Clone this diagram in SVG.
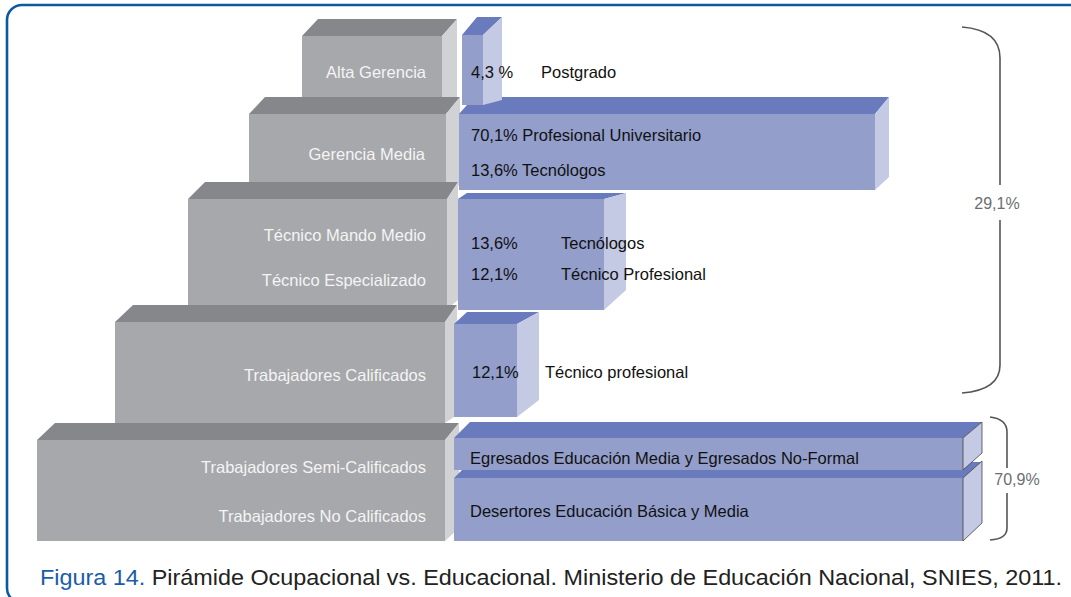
<svg xmlns="http://www.w3.org/2000/svg" width="1071" height="597" viewBox="0 0 1071 597">
<style>
.gf{fill:#a7a8ab}.gt{fill:#86878a}.gs{fill:#d1d2d4}
.bf{fill:#939ecb}.bt{fill:#6a7bbd}.bs{fill:#c4c9e4}
.gl{font-family:"Liberation Sans",Arial,sans-serif;font-size:16.5px;fill:#f4f4f4;text-anchor:end}
.bl{font-family:"Liberation Sans",Arial,sans-serif;font-size:16.5px;fill:#111}
.pc{font-family:"Liberation Sans",Arial,sans-serif;font-size:16px;fill:#6d6e71;text-anchor:middle}
.br{fill:none;stroke:#555;stroke-width:1.6}
.ol{fill:none;stroke:#444;stroke-width:0.8}
</style>
<rect width="1071" height="597" fill="#fff"/>
<rect x="7" y="5" width="1110" height="598" rx="15" fill="none" stroke="#0b59a0" stroke-width="2.6"/>

<g id="gray-alta">
<polygon class="gt" points="302,36 318,19 457,19 442,36"/>
<polygon class="gs" points="442,36 457,19 457,100 442,105"/>
<rect class="gf" x="302" y="36" width="140" height="69"/>
<text class="gl" x="426" y="78">Alta Gerencia</text>
</g>
<g id="gray-gerencia">
<polygon class="gt" points="249,114 265,97 460,97 446,114"/>
<polygon class="gs" points="446,114 460,97 460,185 446,190"/>
<rect class="gf" x="249" y="114" width="197" height="76"/>
<text class="gl" x="425" y="160">Gerencia Media</text>
</g>
<g id="gray-tecnico">
<polygon class="gt" points="188,199 205,182 458,182 447,199"/>
<polygon class="gs" points="447,199 458,182 458,300 447,309"/>
<rect class="gf" x="188" y="199" width="259" height="110"/>
<text class="gl" x="426" y="241">Técnico Mando Medio</text>
<text class="gl" x="426" y="286">Técnico Especializado</text>
</g>
<g id="gray-calificados">
<polygon class="gt" points="115,322 133,305 457,305 445,322"/>
<polygon class="gs" points="445,322 457,305 457,415 445,423"/>
<rect class="gf" x="115" y="322" width="330" height="101"/>
<text class="gl" x="426" y="381">Trabajadores Calificados</text>
</g>
<g id="gray-base">
<polygon class="gt" points="37,440 55,423 459,423 445,440"/>
<polygon class="gs" points="445,440 459,423 459,528 445,541"/>
<rect class="gf" x="37" y="440" width="408" height="101"/>
<text class="gl" x="426" y="473">Trabajadores Semi-Calificados</text>
<text class="gl" x="426" y="522">Trabajadores No Calificados</text>
</g>

<g id="blue-desertores">
<polygon class="bt" points="454,478 470,462 982,462 963,478"/>
<polygon class="bs" points="963,478 982,461 982,523 963,541"/>
<rect class="bf" x="454" y="478" width="509" height="63"/>
<path class="ol" d="M963,478 L982,461 L982,523 L963,541 Z"/>
<text class="bl" x="470" y="517">Desertores Educación Básica y Media</text>
</g>
<g id="blue-egresados">
<polygon class="bt" points="454,438 470,422 982,422 963,438"/>
<polygon class="bs" points="963,438 982,422 982,453 963,470"/>
<rect class="bf" x="454" y="438" width="509" height="32"/>
<path class="ol" d="M963,438 L982,422 L982,453 L963,470 Z"/>
<text class="bl" x="470" y="464">Egresados Educación Media y Egresados No-Formal</text>
</g>
<g id="blue-calificados">
<polygon class="bt" points="454,324 467,312 539,312 517,324"/>
<polygon class="bs" points="517,324 539,312 539,400 517,417"/>
<rect class="bf" x="454" y="324" width="63" height="93"/>
<text class="bl" x="472" y="378">12,1%</text>
<text class="bl" x="545" y="378">Técnico profesional</text>
</g>
<g id="blue-tecnico">
<polygon class="bt" points="458,199 467,193 626,193 604,199"/>
<polygon class="bs" points="604,199 626,193 626,290 604,310"/>
<rect class="bf" x="458" y="199" width="146" height="111"/>
<text class="bl" x="471" y="249">13,6%</text>
<text class="bl" x="561" y="249">Tecnólogos</text>
<text class="bl" x="471" y="280">12,1%</text>
<text class="bl" x="561" y="280">Técnico Profesional</text>
</g>
<g id="blue-gerencia">
<polygon class="bt" points="459,114 474,97 889,97 875,114"/>
<polygon class="bs" points="875,114 889,97 889,177 875,190"/>
<rect class="bf" x="459" y="114" width="416" height="76"/>
<text class="bl" x="471" y="141">70,1% Profesional Universitario</text>
<text class="bl" x="471" y="176">13,6% Tecnólogos</text>
</g>
<g id="blue-alta">
<polygon class="bt" points="462,35 477,17 502,17 483,35"/>
<polygon class="bs" points="483,35 502,17 502,100 483,105"/>
<rect class="bf" x="462" y="35" width="21" height="70"/>
<text class="bl" x="471" y="78">4,3 %</text>
<text class="bl" x="541" y="78">Postgrado</text>
</g>

<g id="connectors">
<path class="br" d="M962,27 Q1000,30 1000,58 L1000,185"/>
<path class="br" d="M1000,220 L1000,365 Q1000,390 962,393"/>
<path class="br" d="M990,417 Q1007,419 1007,432 L1007,468"/>
<path class="br" d="M1007,493 L1007,528 Q1007,539 990,540"/>
</g>
<text class="pc" x="997" y="209">29,1%</text>
<text class="pc" x="1017" y="485">70,9%</text>

<text x="40" y="585" font-family="'Liberation Sans',Arial,sans-serif" font-size="22" fill="#222" textLength="1022" lengthAdjust="spacingAndGlyphs"><tspan fill="#1a5ca6">Figura 14.</tspan> Pirámide Ocupacional vs. Educacional. Ministerio de Educación Nacional, SNIES, 2011.</text>
</svg>
